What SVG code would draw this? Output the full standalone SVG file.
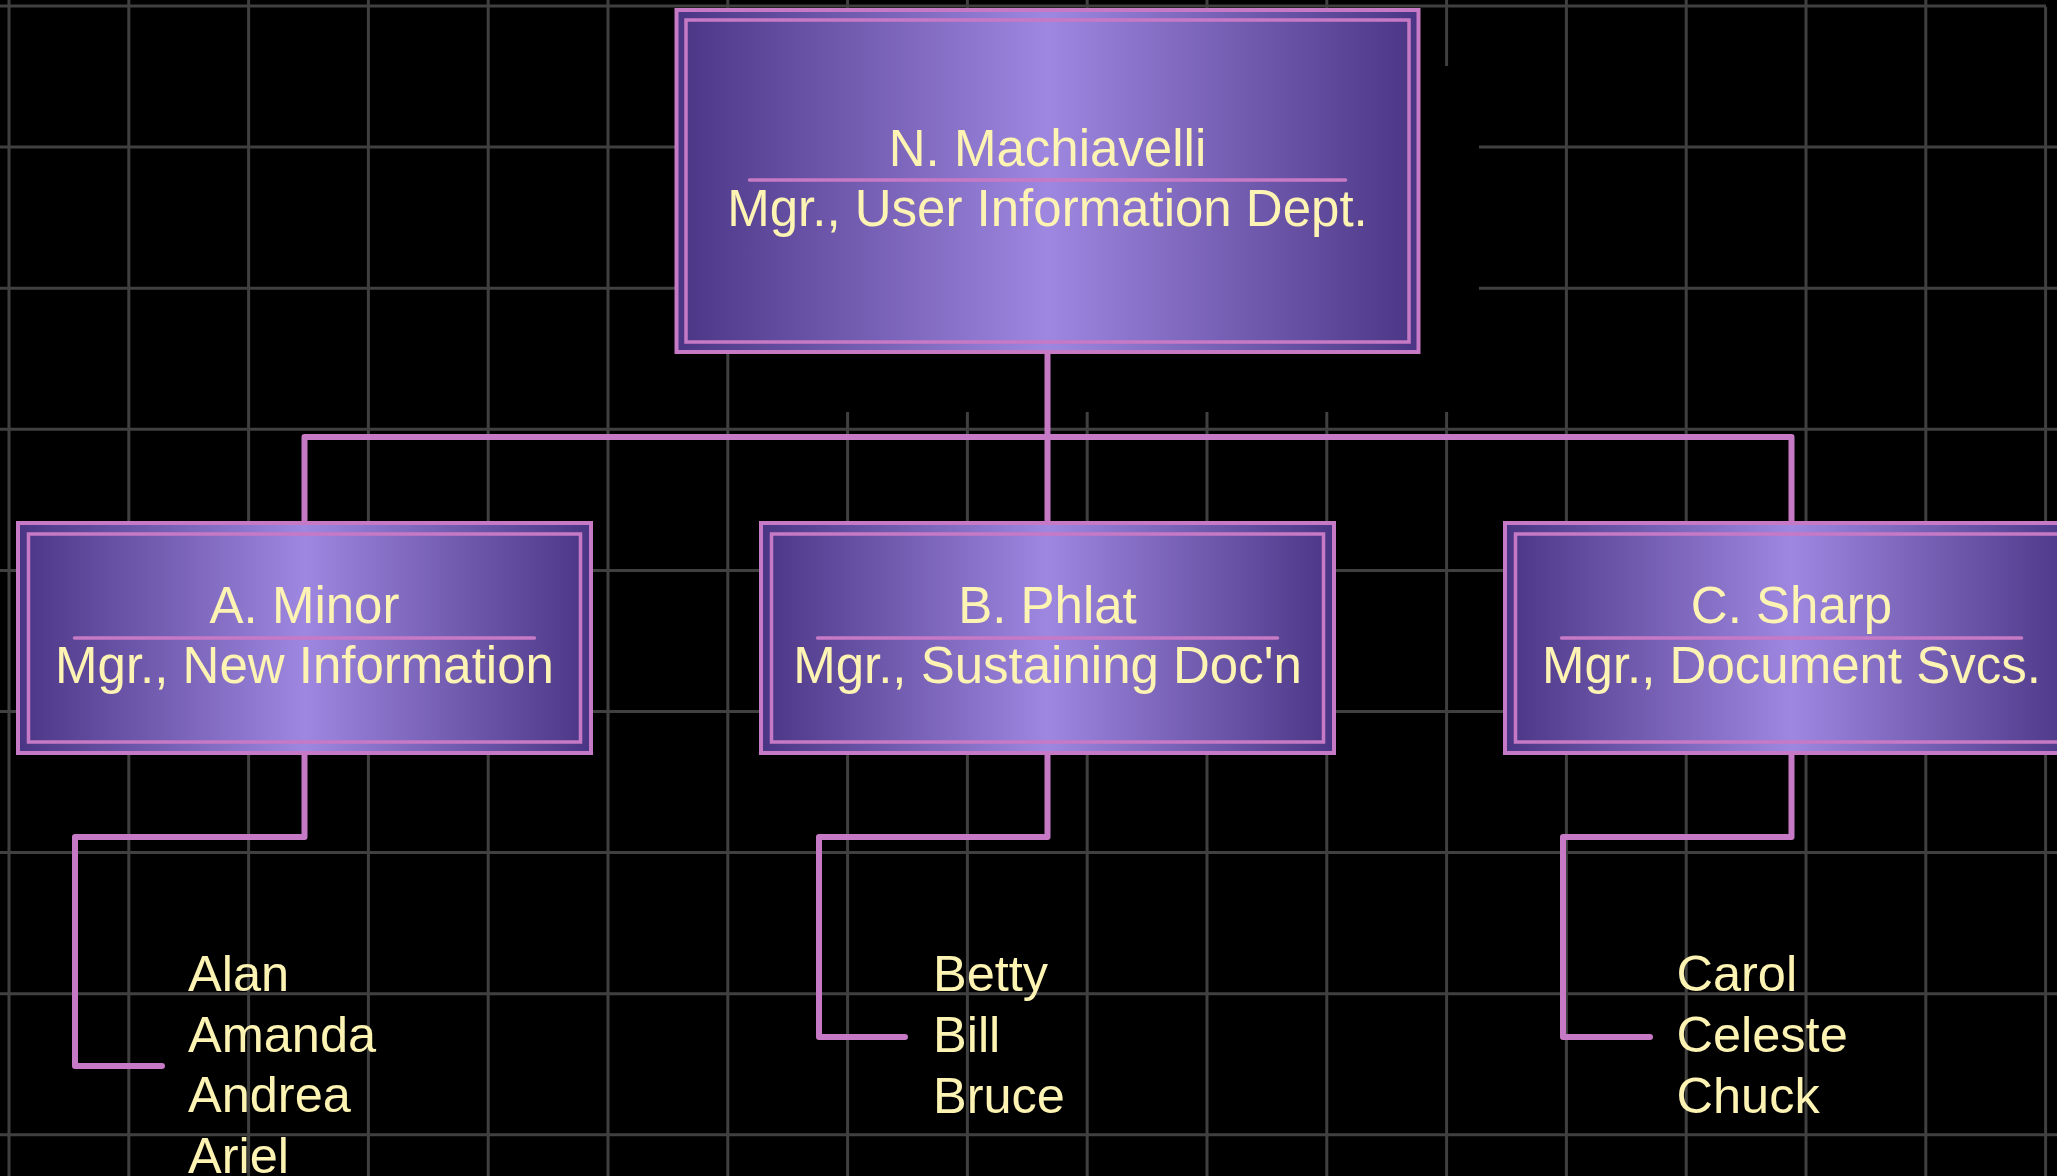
<svg xmlns="http://www.w3.org/2000/svg" width="2057" height="1176" viewBox="0 0 2057 1176">
<defs>
<linearGradient id="boxfill" x1="0" y1="0" x2="1" y2="0">
<stop offset="0" stop-color="#4a3585"/>
<stop offset="0.5" stop-color="#9e87e0"/>
<stop offset="1" stop-color="#4a3585"/>
</linearGradient>
<style>
.grid{stroke:#404040;stroke-width:3;fill:none}
.outer{fill:url(#boxfill);stroke:#c67ac5;stroke-width:4}
.inner{fill:none;stroke:#c67ac5;stroke-width:3.5}
.div{stroke:#c67ac5;stroke-width:3.5;stroke-linecap:round}
.conn{fill:none;stroke:#c67ac5;stroke-width:6;stroke-linejoin:round;stroke-linecap:round}
.t{font-family:"Liberation Sans",Arial,sans-serif;font-size:51px;fill:#fdf3b3;text-anchor:middle}
.n{font-family:"Liberation Sans",Arial,sans-serif;font-size:50.5px;fill:#fdf3b3}
</style>
</defs>
<rect width="2057" height="1176" fill="#000"/>
<g id="grid" class="grid">
<path d="M0 6H2046M0 147.1H2057M0 288.2H2057M0 429.3H2057M0 570.4H2057M0 711.5H2057M0 852.6H2057M0 993.7H2057M0 1134.8H2057"/>
<path d="M9 0V1176M128.8 0V1176M248.6 0V1176M368.4 0V1176M488.2 0V1176M608 0V1176M727.8 0V1176M847.6 0V1176M967.4 0V1176M1087.2 0V1176M1207 0V1176M1326.8 0V1176M1446.6 0V1176M1566.4 0V1176M1686.2 0V1176M1806 0V1176M1925.8 0V1176M2045.6 7V1176"/>
</g>
<rect id="shadow" x="735" y="66" width="744" height="346" fill="#000"/>
<g id="connectors">
<path class="conn" d="M1047.5 352V437"/>
<path class="conn" d="M304.5 523V437H1791.5V523"/>
<path class="conn" d="M1047.5 437V523"/>
<path class="conn" d="M304.5 753V837H75V1066H162"/>
<path class="conn" d="M1047.5 753V837H819V1037H905"/>
<path class="conn" d="M1791.5 753V837H1563V1037H1650"/>
</g>
<g id="node-machiavelli">
<rect class="outer" x="676.5" y="10" width="742" height="342"/>
<rect class="inner" x="686" y="20" width="723" height="322"/>
<text class="t" x="1047.5" y="166">N. Machiavelli</text>
<line class="div" x1="749.5" y1="180" x2="1345.5" y2="180"/>
<text class="t" x="1047.5" y="226">Mgr., User Information Dept.</text>
</g>
<g id="node-minor">
<rect class="outer" x="18" y="523" width="573" height="230"/>
<rect class="inner" x="28.5" y="534" width="552" height="208"/>
<text class="t" x="304.5" y="623">A. Minor</text>
<line class="div" x1="74.5" y1="638" x2="534.5" y2="638"/>
<text class="t" x="304.5" y="683">Mgr., New Information</text>
</g>
<g id="node-phlat">
<rect class="outer" x="761" y="523" width="573" height="230"/>
<rect class="inner" x="771.5" y="534" width="552" height="208"/>
<text class="t" x="1047.5" y="623">B. Phlat</text>
<line class="div" x1="817.5" y1="638" x2="1277.5" y2="638"/>
<text class="t" x="1047.5" y="683">Mgr., Sustaining Doc'n</text>
</g>
<g id="node-sharp">
<rect class="outer" x="1505" y="523" width="573" height="230"/>
<rect class="inner" x="1515.5" y="534" width="552" height="208"/>
<text class="t" x="1791.5" y="623">C. Sharp</text>
<line class="div" x1="1561.5" y1="638" x2="2021.5" y2="638"/>
<text class="t" x="1791.5" y="683">Mgr., Document Svcs.</text>
</g>
<g id="list-minor">
<text class="n" x="188" y="991">Alan</text>
<text class="n" x="188" y="1051.5">Amanda</text>
<text class="n" x="188" y="1112">Andrea</text>
<text class="n" x="188" y="1172.5">Ariel</text>
</g>
<g id="list-phlat">
<text class="n" x="933" y="991">Betty</text>
<text class="n" x="933" y="1052">Bill</text>
<text class="n" x="933" y="1113">Bruce</text>
</g>
<g id="list-sharp">
<text class="n" x="1676.5" y="991">Carol</text>
<text class="n" x="1676.5" y="1052">Celeste</text>
<text class="n" x="1676.5" y="1113">Chuck</text>
</g>
</svg>
